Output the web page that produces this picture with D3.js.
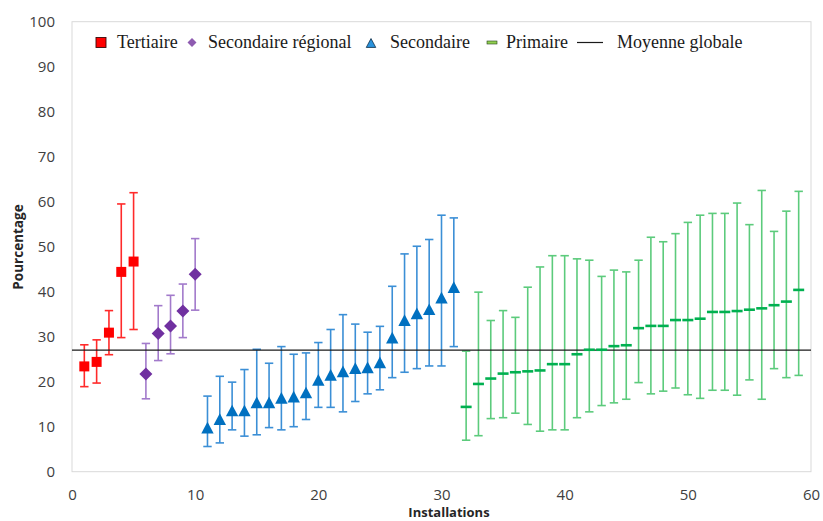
<!DOCTYPE html>
<html>
<head>
<meta charset="utf-8">
<script src="https://cdn.jsdelivr.net/npm/d3@7"></script>
<style>
  body { margin: 0; background: #fff; }
  svg { display: block; }
</style>
</head>
<body>
<svg id="chart" width="823" height="521"></svg>
<script>
// ---- Data: percentage per installation, with lower / upper bounds of the interval ----
const tertiaireX    = [1, 2, 3, 4, 5];
const tertiaireVal  = [23.4, 24.4, 30.9, 44.4, 46.7];
const tertiaireLow  = [18.9, 19.7, 26.0, 29.8, 31.6];
const tertiaireHigh = [28.2, 29.3, 35.8, 59.5, 62.0];

const regionalX    = [6, 7, 8, 9, 10];
const regionalVal  = [21.7, 30.7, 32.4, 35.7, 43.9];
const regionalLow  = [16.2, 24.7, 26.2, 29.8, 35.9];
const regionalHigh = [28.5, 36.9, 39.2, 41.7, 51.8];

const secondaireX    = [11, 12, 13, 14, 15, 16, 17, 18, 19, 20, 21, 22, 23, 24, 25, 26, 27, 28, 29, 30, 31];
const secondaireVal  = [9.8, 11.7, 13.6, 13.6, 15.4, 15.4, 16.4, 16.7, 17.6, 20.4, 21.5, 22.3, 23.0, 23.2, 24.3, 29.8, 33.7, 35.2, 36.1, 38.7, 41.0];
const secondaireLow  = [5.6, 6.4, 9.3, 7.9, 8.2, 9.8, 9.3, 10.0, 11.6, 14.3, 14.3, 13.3, 15.6, 17.3, 18.2, 20.9, 22.1, 22.9, 23.5, 23.5, 27.8];
const secondaireHigh = [16.8, 21.2, 19.9, 22.7, 27.2, 24.1, 27.8, 26.1, 26.4, 28.7, 31.6, 34.9, 32.8, 31.0, 32.3, 41.2, 48.4, 50.1, 51.6, 57.0, 56.4];

const primaireX    = [32, 33, 34, 35, 36, 37, 38, 39, 40, 41, 42, 43, 44, 45, 46, 47, 48, 49, 50, 51, 52, 53, 54, 55, 56, 57, 58, 59];
const primaireVal  = [14.4, 19.5, 20.7, 21.8, 22.1, 22.3, 22.5, 23.9, 23.9, 26.1, 27.1, 27.1, 27.9, 28.1, 31.9, 32.4, 32.4, 33.7, 33.7, 34.0, 35.5, 35.5, 35.7, 36.0, 36.3, 37.0, 37.8, 40.4];
const primaireLow  = [7.0, 8.0, 11.8, 12.0, 13.0, 10.5, 9.0, 9.3, 9.3, 12.0, 13.3, 14.7, 15.3, 16.1, 19.8, 17.3, 17.9, 18.6, 17.1, 16.3, 18.1, 18.1, 17.0, 20.4, 16.1, 22.9, 20.9, 21.4];
const primaireHigh = [26.8, 39.9, 33.6, 35.8, 34.3, 41.0, 45.5, 48.0, 48.0, 47.3, 47.0, 43.4, 44.8, 44.4, 47.0, 52.1, 51.1, 52.9, 55.4, 57.0, 57.4, 57.4, 59.7, 54.9, 62.5, 53.4, 57.9, 62.3];

const moyenneGlobale = 27.0;

const xTicks = [0, 10, 20, 30, 40, 50, 60];
const yTicks = [0, 10, 20, 30, 40, 50, 60, 70, 80, 90, 100];

const legendLabels = ["Tertiaire", "Secondaire régional", "Secondaire", "Primaire", "Moyenne globale"];
const xTitle = "Installations";
const yTitle = "Pourcentage";

// ---- Layout ----
const svg = d3.select("#chart");
const plot = { left: 72, right: 811, top: 21.7, bottom: 471.7 };

const x = d3.scaleLinear().domain([0, 60]).range([plot.left, plot.right]);
const y = d3.scaleLinear().domain([0, 100]).range([plot.bottom, plot.top]);

const axisFont = "'Open Sans', 'Liberation Sans', sans-serif";
const legendFont = "'Liberation Serif', 'DejaVu Serif', serif";

// plot frame
svg.append("rect")
  .attr("x", plot.left).attr("y", plot.top)
  .attr("width", plot.right - plot.left).attr("height", plot.bottom - plot.top)
  .attr("fill", "none").attr("stroke", "#d9d9d9").attr("stroke-width", 1);

// axes (labels only)
const yAxis = svg.append("g")
  .attr("transform", `translate(${plot.left},0)`)
  .call(d3.axisLeft(y).tickValues(yTicks).tickSize(0).tickPadding(17));
const xAxis = svg.append("g")
  .attr("transform", `translate(0,${plot.bottom})`)
  .call(d3.axisBottom(x).tickValues(xTicks).tickSize(0).tickPadding(18));
[yAxis, xAxis].forEach(g => {
  g.select(".domain").remove();
  g.selectAll("text")
    .attr("font-family", axisFont).attr("font-size", 15)
    .attr("fill", "#404040");
});

// axis titles
svg.append("text")
  .attr("x", 449).attr("y", 517)
  .attr("text-anchor", "middle")
  .attr("font-family", axisFont).attr("font-size", 13).attr("font-weight", "bold")
  .attr("fill", "#262626")
  .text(xTitle);
svg.append("text")
  .attr("transform", "translate(23,247) rotate(-90)")
  .attr("text-anchor", "middle")
  .attr("font-family", axisFont).attr("font-size", 13.5).attr("font-weight", "bold")
  .attr("fill", "#262626")
  .text(yTitle);

// ---- Marker shapes (centered on 0,0) ----
const shapes = {
  square: s => `M${-s/2},${-s/2}H${s/2}V${s/2}H${-s/2}Z`,
  diamond: s => `M0,${-s/2}L${s/2},0L0,${s/2}L${-s/2},0Z`,
  triangle: s => `M0,${-s*0.47}L${s/2},${s*0.47}L${-s/2},${s*0.47}Z`,
  dash: s => `M${-s/2},-1.3H${s/2}V1.3H${-s/2}Z`
};

const series = [
  { xs: tertiaireX,  val: tertiaireVal,  lo: tertiaireLow,  hi: tertiaireHigh,
    shape: "square",   size: 10,  fill: "#ff0000", bar: "#ff2a2a" },
  { xs: regionalX,   val: regionalVal,   lo: regionalLow,   hi: regionalHigh,
    shape: "diamond",  size: 13,  fill: "#7030a0", bar: "#a27acb" },
  { xs: secondaireX, val: secondaireVal, lo: secondaireLow, hi: secondaireHigh,
    shape: "triangle", size: 12.4, fill: "#0070c0", bar: "#3b8fd6" },
  { xs: primaireX,   val: primaireVal,   lo: primaireLow,   hi: primaireHigh,
    shape: "dash",     size: 11,  fill: "#00b050", bar: "#5ccb7c" }
];

const capW = 8.4;

// error bars
series.forEach(s => {
  const pts = s.xs.map((d, i) => ({ x: d, v: s.val[i], lo: s.lo[i], hi: s.hi[i] }));
  const g = svg.append("g").attr("stroke", s.bar).attr("stroke-width", 1.6).attr("fill", "none");
  g.selectAll("line.v").data(pts).join("line")
    .attr("x1", d => x(d.x)).attr("x2", d => x(d.x))
    .attr("y1", d => y(d.lo)).attr("y2", d => y(d.hi));
  g.selectAll("line.top").data(pts).join("line")
    .attr("x1", d => x(d.x) - capW / 2).attr("x2", d => x(d.x) + capW / 2)
    .attr("y1", d => y(d.hi)).attr("y2", d => y(d.hi));
  g.selectAll("line.bot").data(pts).join("line")
    .attr("x1", d => x(d.x) - capW / 2).attr("x2", d => x(d.x) + capW / 2)
    .attr("y1", d => y(d.lo)).attr("y2", d => y(d.lo));
});

// overall mean line
svg.append("line")
  .attr("x1", plot.left).attr("x2", plot.right)
  .attr("y1", y(moyenneGlobale)).attr("y2", y(moyenneGlobale))
  .attr("stroke", "#1a1a1a").attr("stroke-width", 1.3);

// markers
series.forEach(s => {
  const pts = s.xs.map((d, i) => ({ x: d, v: s.val[i] }));
  svg.append("g").selectAll("path").data(pts).join("path")
    .attr("transform", d => `translate(${x(d.x)},${y(d.v)})`)
    .attr("d", shapes[s.shape](s.size))
    .attr("fill", s.fill);
});

// ---- Legend ----
const legendY = 42.5;
const legendItems = [
  { sym: "square",   cx: 101, text: 117 },
  { sym: "diamond",  cx: 192, text: 208 },
  { sym: "triangle", cx: 371, text: 390 },
  { sym: "dash",     cx: 492, text: 506 },
  { sym: "line",     cx: 590, text: 617 }
];
const lg = svg.append("g");
legendItems.forEach((it, i) => {
  if (it.sym === "square") {
    lg.append("rect").attr("x", it.cx - 5).attr("y", legendY - 5).attr("width", 10).attr("height", 10)
      .attr("fill", "#ff0000").attr("stroke", "#3a0a0a").attr("stroke-width", 0.9);
  } else if (it.sym === "diamond") {
    lg.append("path").attr("transform", `translate(${it.cx},${legendY})`)
      .attr("d", shapes.diamond(9)).attr("fill", "#8e5bb0");
  } else if (it.sym === "triangle") {
    lg.append("path").attr("transform", `translate(${it.cx},${legendY + 0.5})`)
      .attr("d", shapes.triangle(9.5)).attr("fill", "#2a93dc")
      .attr("stroke", "#10304a").attr("stroke-width", 0.8);
  } else if (it.sym === "dash") {
    lg.append("rect").attr("x", it.cx - 5).attr("y", legendY - 1.5).attr("width", 10).attr("height", 3)
      .attr("fill", "#92d050").attr("stroke", "#24401a").attr("stroke-width", 0.6);
  } else {
    lg.append("line").attr("x1", it.cx - 13).attr("x2", it.cx + 13)
      .attr("y1", legendY).attr("y2", legendY)
      .attr("stroke", "#1a1a1a").attr("stroke-width", 1.2);
  }
  lg.append("text")
    .attr("x", it.text).attr("y", legendY + 5.8)
    .attr("font-family", legendFont).attr("font-size", 18)
    .attr("fill", "#1a1a1a")
    .text(legendLabels[i]);
});
</script>
</body>
</html>
